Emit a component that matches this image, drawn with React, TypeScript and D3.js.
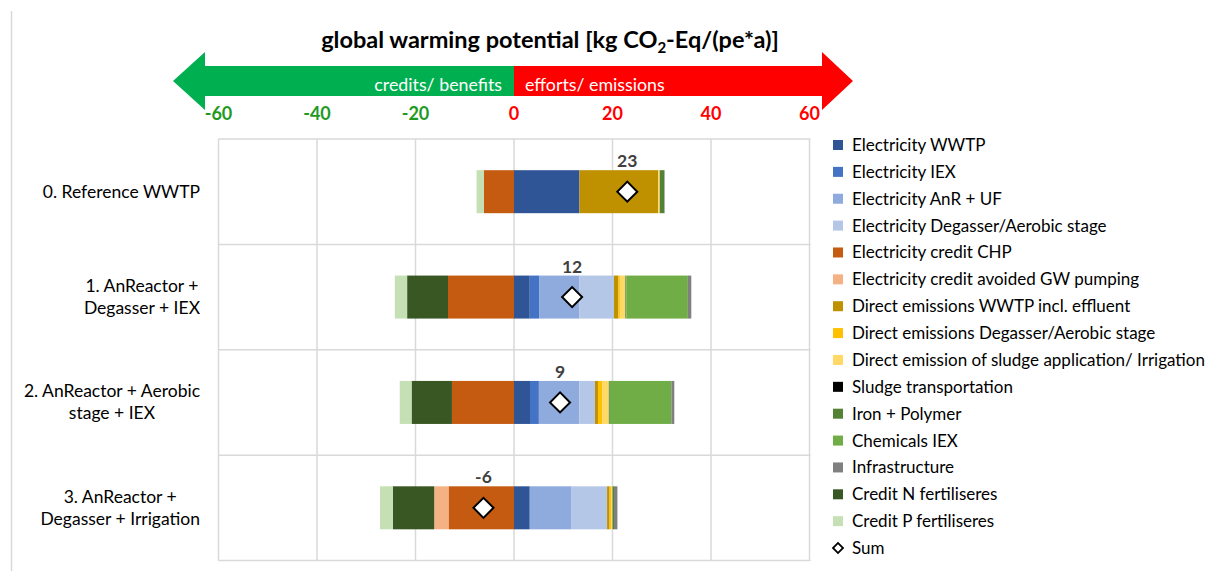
import { useEffect, useRef } from "react";
import * as d3 from "d3";

// scenarios, top to bottom
const categories = [
  ["0. Reference WWTP"],
  ["1. AnReactor +", "Degasser + IEX"],
  ["2. AnReactor + Aerobic", "stage + IEX"],
  ["3. AnReactor +", "Degasser + Irrigation"],
];

// kg CO2-Eq/(pe*a), one value per scenario
const elecWWTP = [13.3, 3.2, 3.25, 3.2];
const elecIEX = [0, 1.9, 1.8, 0];
const elecAnR = [0, 8.2, 8.2, 8.5];
const elecDegasser = [0, 7.0, 3.2, 7.2];
const creditCHP = [-6.1, -13.4, -12.6, -13.3];
const creditGW = [0, 0, 0, -2.9];
const directWWTP = [16.0, 0.9, 0.6, 0.5];
const directDegasser = [0, 0.3, 0.9, 0.3];
const directSludge = [0.3, 1.1, 1.3, 0.3];
const sludgeTransport = [0, 0, 0, 0];
const ironPolymer = [0.9, 0.2, 0.2, 0.3];
const chemicalsIEX = [0, 12.5, 12.5, 0];
const infrastructure = [0.1, 0.7, 0.6, 0.7];
const creditN = [0, -8.3, -8.2, -8.4];
const creditP = [-1.5, -2.5, -2.4, -2.6];

const seriesNames = [
  "Electricity WWTP",
  "Electricity IEX",
  "Electricity AnR + UF",
  "Electricity Degasser/Aerobic stage",
  "Electricity credit CHP",
  "Electricity credit avoided GW pumping",
  "Direct emissions WWTP incl. effluent",
  "Direct emissions Degasser/Aerobic stage",
  "Direct emission of sludge application/ Irrigation",
  "Sludge transportation",
  "Iron + Polymer",
  "Chemicals IEX",
  "Infrastructure",
  "Credit N fertiliseres",
  "Credit P fertiliseres",
];
const seriesValues = [
  elecWWTP, elecIEX, elecAnR, elecDegasser, creditCHP, creditGW,
  directWWTP, directDegasser, directSludge, sludgeTransport,
  ironPolymer, chemicalsIEX, infrastructure, creditN, creditP,
];
const seriesColors = [
  "#2F5597", "#4472C4", "#8FAADC", "#B4C7E7", "#C55A11", "#F4B183",
  "#BF9000", "#FFC000", "#FFD966", "#000000", "#548235", "#70AD47",
  "#808080", "#385723", "#C5E0B4",
];

const xTicks = [-60, -40, -20, 0, 20, 40, 60];

const FONT = "Lato, 'Noto Sans', sans-serif";

export default function App() {
  const ref = useRef<SVGSVGElement>(null);

  useEffect(() => {
    document.body.style.margin = "0";
    if (!ref.current) return;
    const svg = d3.select(ref.current);
    svg.selectAll("*").remove();

    const plot = { left: 218.5, right: 809.5, top: 139, bottom: 560.5 };
    const barH = 43;

    const x = d3.scaleLinear().domain([-60, 60]).range([plot.left, plot.right]);
    const y = d3.scaleBand<number>()
      .domain(categories.map((_, i) => i))
      .range([plot.top, plot.bottom]);

    // build rows for the stack
    const rows = categories.map((_, i) => {
      const r: { [k: string]: number } = {};
      seriesNames.forEach((n, s) => (r[n] = seriesValues[s][i]));
      return r;
    });
    const stacked = d3.stack<{ [k: string]: number }>()
      .keys(seriesNames)
      .offset(d3.stackOffsetDiverging)(rows);
    const sums = rows.map(r => d3.sum(seriesNames, n => r[n]));

    // chart border (left edge only visible)
    svg.append("line")
      .attr("x1", 11.5).attr("x2", 11.5).attr("y1", 11).attr("y2", 571)
      .attr("stroke", "#D9D9D9").attr("stroke-width", 1.5);

    // title
    const title = svg.append("text")
      .attr("x", 550).attr("y", 48)
      .attr("text-anchor", "middle")
      .attr("font-family", FONT).attr("font-weight", "bold")
      .attr("font-size", 23.5).attr("fill", "#000");
    title.append("tspan").text("global warming potential [kg CO");
    title.append("tspan").attr("font-size", 15).attr("dy", 5).text("2");
    title.append("tspan").attr("dy", -5).text("-Eq/(pe*a)]");

    // double arrow
    const x0 = x(0);
    const shaftT = 66, shaftB = 96, headT = 52, headB = 110, midY = 81;
    svg.append("path")
      .attr("d", `M${x0},${shaftT} L205,${shaftT} L205,${headT} L173,${midY} L205,${headB} L205,${shaftB} L${x0},${shaftB} Z`)
      .attr("fill", "#00B050");
    svg.append("path")
      .attr("d", `M${x0},${shaftT} L822,${shaftT} L822,${headT} L853,${midY} L822,${headB} L822,${shaftB} L${x0},${shaftB} Z`)
      .attr("fill", "#FF0000");
    svg.append("text")
      .attr("x", x0 - 12).attr("y", 91).attr("text-anchor", "end")
      .attr("font-family", FONT).attr("font-size", 17.8).attr("fill", "#fff")
      .text("credits/ benefits");
    svg.append("text")
      .attr("x", x0 + 11).attr("y", 91)
      .attr("font-family", FONT).attr("font-size", 17.8).attr("fill", "#fff")
      .text("efforts/ emissions");

    // top tick labels
    svg.append("g").selectAll("text").data(xTicks).join("text")
      .attr("x", d => x(d)).attr("y", 120)
      .attr("text-anchor", "middle")
      .attr("font-family", FONT).attr("font-weight", "bold").attr("font-size", 18)
      .attr("fill", d => (d < 0 ? "#1F9A1F" : "#FF0000"))
      .text(d => d);

    // grid
    const grid = svg.append("g").attr("stroke", "#D9D9D9").attr("stroke-width", 1.5);
    grid.selectAll("line.v").data(xTicks).join("line")
      .attr("x1", d => x(d)).attr("x2", d => x(d))
      .attr("y1", plot.top).attr("y2", plot.bottom);
    const hLines = [plot.top, ...categories.map((_, i) => y(i)! + y.bandwidth())];
    grid.selectAll("line.h").data(hLines).join("line")
      .attr("x1", plot.left).attr("x2", plot.right + 1)
      .attr("y1", d => d).attr("y2", d => d);

    // bars
    svg.append("g").selectAll("g").data(stacked).join("g")
      .attr("fill", (_, i) => seriesColors[i])
      .selectAll("rect").data(d => d).join("rect")
      .attr("x", d => x(Math.min(d[0], d[1])))
      .attr("width", d => Math.abs(x(d[1]) - x(d[0])))
      .attr("y", (_, i) => y(i)! + (y.bandwidth() - barH) / 2)
      .attr("height", barH);

    // sum markers
    const diamond = d3.symbol().type(d3.symbolSquare).size(200);
    svg.append("g").selectAll("path").data(sums).join("path")
      .attr("d", diamond)
      .attr("transform", (d, i) => `translate(${x(d)},${y(i)! + y.bandwidth() / 2}) rotate(45)`)
      .attr("fill", "#fff").attr("stroke", "#000").attr("stroke-width", 2);
    svg.append("g").selectAll("text").data(sums).join("text")
      .attr("x", d => x(d)).attr("y", (_, i) => y(i)! + (y.bandwidth() - barH) / 2 - 3)
      .attr("text-anchor", "middle")
      .attr("font-family", FONT).attr("font-weight", "bold").attr("font-size", 17.5)
      .attr("fill", "#404040")
      .text(d => Math.round(d));

    // category labels: lines centred on each other, block right aligned
    categories.forEach((lines, i) => {
      const cy = y(i)! + y.bandwidth() / 2;
      const lh = 22;
      const g = svg.append("g");
      const texts = lines.map((l, k) =>
        g.append("text")
          .attr("y", cy + (k - (lines.length - 1) / 2) * lh + 6)
          .attr("text-anchor", "middle")
          .attr("font-family", FONT).attr("font-size", 17.5).attr("fill", "#000")
          .text(l));
      const w = d3.max(texts, t => (t.node() as SVGTextElement).getComputedTextLength()) || 0;
      texts.forEach(t => t.attr("x", 200 - w / 2));
    });

    // legend
    const legend = svg.append("g").attr("transform", "translate(833,145)");
    const step = 26.87;
    seriesNames.forEach((n, i) => {
      legend.append("rect")
        .attr("x", 0).attr("y", i * step - 5).attr("width", 10).attr("height", 10)
        .attr("fill", seriesColors[i]);
      legend.append("text")
        .attr("x", 19).attr("y", i * step + 6)
        .attr("font-family", FONT).attr("font-size", 17).attr("fill", "#000")
        .text(n);
    });
    const sy = seriesNames.length * step;
    legend.append("path")
      .attr("d", d3.symbol().type(d3.symbolSquare).size(50)())
      .attr("transform", `translate(5,${sy}) rotate(45)`)
      .attr("fill", "#fff").attr("stroke", "#000").attr("stroke-width", 1.8);
    legend.append("text")
      .attr("x", 19).attr("y", sy + 6)
      .attr("font-family", FONT).attr("font-size", 17).attr("fill", "#000")
      .text("Sum");
  }, []);

  return <svg ref={ref} width={1209} height={571} style={{ display: "block" }} />;
}
